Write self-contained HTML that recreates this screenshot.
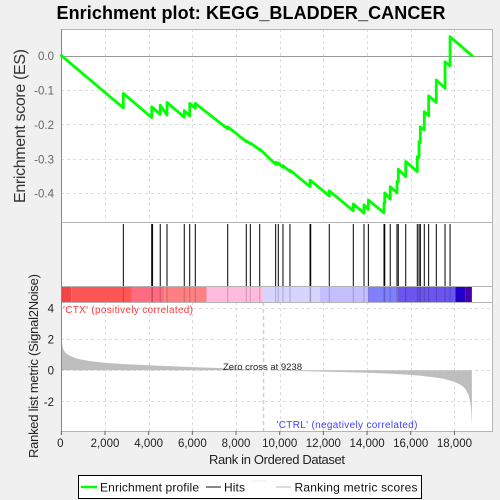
<!DOCTYPE html>
<html>
<head>
<meta charset="utf-8">
<style>
html,body{margin:0;padding:0;background:#f0f0f0;}
svg{display:block;font-family:"Liberation Sans",sans-serif;}
</style>
</head>
<body>
<svg id="chart" width="500" height="500" viewBox="0 0 500 500" xmlns="http://www.w3.org/2000/svg">
<rect x="0" y="0" width="500" height="500" fill="#f0f0f0"/>
<text x="251" y="19" text-anchor="middle" font-size="18" font-weight="bold" fill="#000" textLength="389" lengthAdjust="spacing">Enrichment plot: KEGG_BLADDER_CANCER</text>
<rect x="61" y="29" width="431" height="193" fill="#fff"/>
<rect x="61" y="222" width="431" height="80" fill="#fff"/>
<rect x="61" y="302" width="431" height="129" fill="#fff"/>
<g id="grid"></g>
<g id="band"></g>
<g id="metric"></g>
<g id="hits"></g>
<g id="profile"></g>
<g id="frames"></g>
<g id="ticks"></g>
<text transform="translate(25,126) rotate(-90)" text-anchor="middle" font-size="16" fill="#333" textLength="154" lengthAdjust="spacing">Enrichment score (ES)</text>
<text transform="translate(38,366) rotate(-90)" text-anchor="middle" font-size="13" fill="#222" textLength="184" lengthAdjust="spacing">Ranked list metric (Signal2Noise)</text>
<text x="277" y="464" text-anchor="middle" font-size="13" fill="#222" textLength="136" lengthAdjust="spacing">Rank in Ordered Dataset</text>
<text x="63" y="313" font-size="10" fill="#ff3c3c" textLength="130" lengthAdjust="spacing">'CTX' (positively correlated)</text>
<text x="276.500" y="428" font-size="10" fill="#4040ff" textLength="141" lengthAdjust="spacing">'CTRL' (negatively correlated)</text>
<text x="223" y="370" font-size="9.500" fill="#222" textLength="79" lengthAdjust="spacing">Zero cross at 9238</text>
<g>
<rect x="78.500" y="475.500" width="343" height="23" fill="#fff" stroke="#000" stroke-width="1"/>
<line x1="81" y1="487" x2="97" y2="487" stroke="#00ff00" stroke-width="2.500"/>
<text x="100" y="491.500" font-size="12" fill="#111" textLength="99" lengthAdjust="spacing">Enrichment profile</text>
<line x1="206" y1="487" x2="221" y2="487" stroke="#888" stroke-width="2"/>
<text x="224" y="491.500" font-size="12" fill="#111" textLength="21" lengthAdjust="spacing">Hits</text>
<line x1="251" y1="481" x2="266" y2="481" stroke="#eee" stroke-width="1"/>
<line x1="276" y1="487" x2="291" y2="487" stroke="#ddd" stroke-width="2"/>
<text x="294.500" y="491.500" font-size="12" fill="#111" textLength="123" lengthAdjust="spacing">Ranking metric scores</text>
</g>
</svg>
<script>
var xTickValues = [0, 2000, 4000, 6000, 8000, 10000, 12000, 14000, 16000, 18000];
var esTickValues = [0, -0.1, -0.2, -0.3, -0.4];
var metricTickValues = [4, 2, 0, -2];
var zeroCrossRank = 9238;

var hitRanks = [2840, 4140, 4180, 4530, 4840, 5630, 5880, 6135, 7620, 8470, 8655, 9085, 9815, 9935, 10150, 10470, 11390, 11420, 12270, 13370, 13860, 14060, 14775, 14810, 15060, 15370, 15430, 15770, 16300, 16380, 16440, 16620, 16820, 17170, 17570, 17800];

var profileRanks = [0, 2840, 2840, 4140, 4140, 4530, 4530, 4840, 4840, 5630, 5630, 5880, 5880, 6135, 6135, 7620, 7620, 8470, 8470, 8655, 8655, 9085, 9085, 9815, 9815, 9935, 9935, 10150, 10150, 10470, 10470, 11390, 11390, 12270, 12270, 13370, 13370, 13860, 13860, 14060, 14060, 14775, 14775, 14810, 14810, 15060, 15060, 15370, 15370, 15430, 15430, 15770, 15770, 16300, 16300, 16380, 16380, 16440, 16440, 16620, 16620, 16820, 16820, 17170, 17170, 17570, 17570, 17800, 17800, 18800];
var profileScores = [0, -0.152, -0.11, -0.18, -0.149, -0.171, -0.144, -0.173, -0.136, -0.179, -0.16, -0.175, -0.139, -0.153, -0.139, -0.213, -0.207, -0.25, -0.248, -0.256, -0.254, -0.274, -0.272, -0.316, -0.31, -0.315, -0.312, -0.325, -0.32, -0.337, -0.333, -0.381, -0.362, -0.408, -0.393, -0.451, -0.431, -0.458, -0.434, -0.447, -0.42, -0.457, -0.428, -0.429, -0.399, -0.417, -0.381, -0.399, -0.366, -0.367, -0.33, -0.352, -0.308, -0.337, -0.294, -0.296, -0.25, -0.253, -0.207, -0.216, -0.163, -0.175, -0.117, -0.136, -0.071, -0.095, -0.018, -0.03, 0.055, 0];

var metricRanks = [0, 30, 60, 100, 150, 200, 300, 400, 600, 800, 1000, 1500, 2000, 3000, 4000, 5000, 6000, 7000, 8000, 9238, 10000, 11000, 12000, 13000, 14000, 15000, 16000, 16500, 17000, 17500, 18000, 18300, 18500, 18650, 18720, 18770, 18800];
var metricValues = [2.1, 1.75, 1.5, 1.32, 1.2, 1.1, 1.0, 0.92, 0.8, 0.72, 0.65, 0.55, 0.47, 0.38, 0.32, 0.25, 0.2, 0.15, 0.09, 0, -0.03, -0.06, -0.09, -0.12, -0.16, -0.22, -0.3, -0.36, -0.44, -0.55, -0.74, -0.95, -1.2, -1.6, -2.0, -2.6, -3.55];

var bandStarts = [0, 450, 3230, 4710, 6650, 9230, 11840, 14060, 15430, 18050, 18500];
var bandEnds = [450, 3230, 4710, 6650, 9230, 11840, 14060, 15430, 18050, 18500, 18800];
var bandColors = ["#f24444", "#ff5555", "#ff6b80", "#ff8080", "#ffbbdd", "#d5d5ff", "#c4bfff", "#8080ff", "#6a55ee", "#2200cc", "#4a00a8"];

var SVG_NS = "http://www.w3.org/2000/svg";
function xScale(rank) { return 61.3 + rank * 0.02184; }
function esY(score) { return 55.6 - score * 344; }
function metricY(value) { return 370.2 - value * 15.6; }
function make(parent, tag, attrs) {
  var el = document.createElementNS(SVG_NS, tag);
  for (var k in attrs) { el.setAttribute(k, attrs[k]); }
  document.getElementById(parent).appendChild(el);
  return el;
}
function fmt(n) { return String(n).replace(/\B(?=(\d{3})+(?!\d))/g, ","); }

xTickValues.forEach(function (t) {
  if (t === 0) { return; }
  var gx = Math.round(xScale(t)) + 0.5;
  var g1 = make("grid", "line", {x1: gx, x2: gx, y1: 29, y2: 222, stroke: "#dcdcdc", "stroke-dasharray": "3 3"});
  
  
  var g2 = make("grid", "line", {x1: gx, x2: gx, y1: 302, y2: 431, stroke: "#dcdcdc", "stroke-dasharray": "3 3"});
  
  
});
esTickValues.forEach(function (t) {
  var gy = Math.round(esY(t)) + 0.5;
  var line = make("grid", "line", t === 0
    ? {x1: 61, x2: 492, y1: gy, y2: gy, stroke: "#9a9a9a"}
    : {x1: 61, x2: 492, y1: gy, y2: gy, stroke: "#dcdcdc", "stroke-dasharray": "3 3"});
  
  
  var label = make("ticks", "text", {x: 54, y: esY(t) + 4.5, "text-anchor": "end", "font-size": 11.5, fill: "#666"});
  
  
  label.textContent = t.toFixed(1);
});
metricTickValues.forEach(function (t) {
  var gy = Math.round(metricY(t)) + 0.5;
  var line = make("grid", "line", {x1: 61, x2: 492, y1: gy, y2: gy, stroke: "#dcdcdc", "stroke-dasharray": "3 3"});
  
  
  var label = make("ticks", "text", {x: 54, y: metricY(t) + 4.5, "text-anchor": "end", "font-size": 11.5, fill: "#222"});
  
  
  label.textContent = String(t);
});
var zx = Math.round(xScale(zeroCrossRank)) + 0.5;
var zeroLine = make("grid", "line", {x1: zx, x2: zx, y1: 302, y2: 431, stroke: "#cfcfcf", "stroke-width": 1.5, "stroke-dasharray": "4 3"});



bandColors.forEach(function (c, i) {
  var seg = make("band", "rect", {x: xScale(bandStarts[i]), y: 286, width: xScale(bandEnds[i]) - xScale(bandStarts[i]), height: 16, fill: c});
  
  
});

var pts = metricRanks.map(function (r, i) { return xScale(r) + "," + metricY(metricValues[i]); });
var area = make("metric", "polygon", {points: xScale(0) + "," + metricY(0) + " " + pts.join(" ") + " " + xScale(metricRanks[metricRanks.length - 1]) + "," + metricY(0), fill: "#bebebe"});



hitRanks.forEach(function (r) {
  var x = xScale(r);
  var hit = make("hits", "line", {x1: x, x2: x, y1: 224, y2: 286, stroke: "#000", "stroke-width": 1});
  
  
  var shade = make("hits", "line", {x1: x, x2: x, y1: 286, y2: 302, stroke: "#000", "stroke-opacity": 0.2, "stroke-width": 1});
  
  
});

var profilePts = profileRanks.map(function (r, i) { return xScale(r) + "," + esY(profileScores[i]); });
var profile = make("profile", "polyline", {points: profilePts.join(" "), fill: "none", stroke: "#00ff00", "stroke-width": 2.8, "stroke-linejoin": "round", "stroke-linecap": "round"});



[[61, 29, 431, 193], [61, 222, 431, 64], [61, 286, 431, 16], [61, 302, 431, 129]].forEach(function (f) {
  var frame = make("frames", "rect", {x: f[0] + 0.5, y: f[1] + 0.5, width: f[2], height: f[3], fill: "none", stroke: "#b4b4b4"});
  
  
});
var leftAxis = make("frames", "line", {x1: 61.5, x2: 61.5, y1: 29, y2: 431, stroke: "#888"});



xTickValues.forEach(function (t) {
  var x = xScale(t);
  var tick = make("ticks", "line", {x1: x, x2: x, y1: 431, y2: 435, stroke: "#666"});
  
  
  var label = make("ticks", "text", {x: t === 0 ? x - 1 : x, y: 447, "text-anchor": "middle", "font-size": 11.5, fill: "#222"});
  
  
  label.textContent = fmt(t);
});
</script>
</body>
</html>
